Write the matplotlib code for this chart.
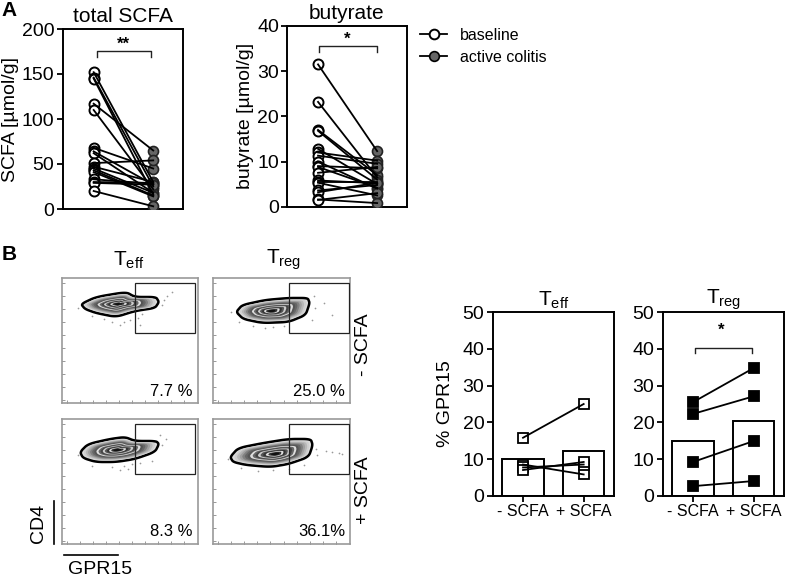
# Paired SCFA plots, flow cytometry panels and GPR15 bars
import numpy as np
import matplotlib
matplotlib.use('Agg')
import matplotlib.pyplot as plt
from matplotlib.lines import Line2D
from matplotlib.patches import Polygon, Rectangle

plt.rcParams['font.family'] = ['Liberation Sans', 'DejaVu Sans']
plt.rcParams['mathtext.fontset'] = 'custom'
plt.rcParams['mathtext.rm'] = 'Liberation Sans'
plt.rcParams['mathtext.default'] = 'rm'

W, H = 786, 578

# panel A values
scfa_base = [152, 146, 145, 117, 110, 68, 64, 62, 51, 47, 45, 43, 41, 33, 30, 29, 20]
scfa_col = [30, 25, 16, 65, 22, 45, 27, 18, 54, 30, 18, 15, 14, 28, 29, 27, 3]
but_base = [31.5, 23.2, 17, 16.8, 12.8, 12, 11.3, 10, 9, 8.8, 7.5, 5.8, 5.5, 5.3, 3.6, 3.2, 1.6, 1.5]
but_col = [12.3, 6.5, 7, 6, 5, 10.2, 9.5, 4, 8.5, 4.2, 8.8, 5.2, 5.5, 2.5, 4.8, 5.3, 0.8, 3]

# panel B values
bar_labels = ['- SCFA', '+ SCFA']
teff_bars = [10, 12.3]
treg_bars = [15, 20.3]
teff_minus = [15.8, 8.5, 7.7, 7]
teff_plus = [25, 5.8, 8.5, 9.2]
treg_minus = [25.5, 22.3, 9.2, 2.6]
treg_plus = [34.8, 27.1, 14.9, 4]

# flow plots: outer contour of each population, in pixels inside the panel
outline_teff_minus = [(19, 26), (34, 19), (64, 14), (73, 19), (94, 19), (97, 24), (93, 30),
                      (73, 33), (54, 39), (34, 35), (23, 31)]
outline_treg_minus = [(23, 34), (29, 27), (52, 22), (75, 20), (94, 20), (96, 25), (92, 37),
                      (75, 44), (49, 45), (30, 41)]
outline_teff_plus = [(18, 33), (26, 25), (48, 20), (63, 18), (73, 22), (94, 22), (97, 25),
                     (93, 33), (73, 40), (54, 43), (34, 43), (21, 39)]
outline_treg_plus = [(17, 38), (25, 29), (50, 24), (75, 20), (97, 20), (99, 26), (95, 38),
                     (75, 45), (57, 48), (33, 46), (20, 43)]
cores = [(56, 26), (58, 33), (55, 31), (62, 35)]
percents = ['7.7 %', '25.0 %', '8.3 %', '36.1%']
specks_teff_minus = [(16, 30), (30, 38), (42, 41), (50, 44), (58, 47), (62, 44), (68, 42),
                     (76, 40), (80, 36), (102, 22), (105, 18), (110, 14), (100, 27), (78, 47)]
specks_treg_minus = [(18, 34), (26, 44), (40, 48), (52, 50), (60, 49), (70, 48), (100, 18),
                     (110, 25), (118, 37), (101, 30), (98, 42)]
specks_teff_plus = [(16, 36), (30, 47), (50, 48), (58, 51), (62, 47), (66, 50), (70, 45),
                    (78, 44), (100, 26), (104, 20), (98, 16), (90, 42)]
specks_treg_plus = [(15, 40), (28, 49), (45, 52), (60, 51), (75, 50), (90, 46), (102, 30),
                    (112, 32), (118, 33), (125, 34), (128, 35), (103, 36)]
flow_ticks = [5, 18, 31, 44, 57, 70, 83, 96, 109, 122]


def px_axes(left, top, right, bottom):
    return fig.add_axes([left / W, 1 - bottom / H, (right - left) / W, (bottom - top) / H])


def bracket(ax, x0, x1, top, low):
    ax.plot([x0, x0, x1, x1], [low, top, top, low], color='#222222', lw=1.0, zorder=6)


def paired(ax, base, col, ymax, ticks, title, ylabel, star, star_y, br):
    x = np.array([0, 1])
    ax.plot(np.zeros(len(base)), base, 'o', ms=7.2, mfc='white', mec='black', mew=1.4, zorder=3)
    ax.plot(np.ones(len(col)), col, 'o', ms=7.2, mfc='#666666', mec='#222222', mew=1.2, zorder=3)
    for a, b in zip(base, col):
        ax.plot(x, [a, b], color='black', lw=1.3, zorder=4)
    ax.set_xlim(-0.52, 1.5)
    ax.set_ylim(0, ymax)
    ax.set_xticks([])
    ax.set_yticks(ticks)
    ax.tick_params(axis='y', labelsize=14, length=4, width=1.3, pad=2)
    ax.set_title(title, fontsize=15, pad=5)
    ax.set_ylabel(ylabel, fontsize=14, labelpad=2)
    for s in ax.spines.values():
        s.set_linewidth(1.4)
    bracket(ax, *br)
    ax.text(0.5, star_y, star, ha='center', va='center', fontsize=12, fontweight='bold')


def bars(ax, heights, minus, plus, title, marker_face):
    x = np.array([0, 1])
    ax.bar(x, heights, width=0.68, facecolor='white', edgecolor='black', lw=1.4, zorder=2)
    ax.plot(np.zeros(4), minus, 's', ms=6.6, mfc=marker_face, mec='black', mew=1.3, zorder=3)
    ax.plot(np.ones(4), plus, 's', ms=6.6, mfc=marker_face, mec='black', mew=1.3, zorder=3)
    for a, b in zip(minus, plus):
        ax.plot(x, [a, b], color='black', lw=1.3, zorder=4)
    ax.set_xlim(-0.5, 1.5)
    ax.set_ylim(0, 50)
    ax.set_xticks(x)
    ax.set_xticklabels(bar_labels)
    ax.set_yticks([0, 10, 20, 30, 40, 50])
    ax.tick_params(axis='y', labelsize=14, length=4, width=1.3, pad=2)
    ax.tick_params(axis='x', labelsize=11.5, length=4, width=1.3, pad=2)
    ax.set_title(title, fontsize=15, pad=5)
    for s in ax.spines.values():
        s.set_linewidth(1.4)


def smooth_outline(points):
    # densify the closed outline, then round off its corners
    pts = np.array(points + [points[0]], dtype=float)
    t = np.arange(len(pts))
    tt = np.linspace(0, len(pts) - 1, 240, endpoint=False)
    xs = np.interp(tt, t, pts[:, 0])
    ys = np.interp(tt, t, pts[:, 1])
    k = np.ones(15) / 15
    xs = np.convolve(np.r_[xs[-15:], xs, xs[:15]], k, mode='same')[15:-15]
    ys = np.convolve(np.r_[ys[-15:], ys, ys[:15]], k, mode='same')[15:-15]
    return np.c_[xs, ys]


def flow(ax, points, core, specks, gate, label):
    ax.set_xlim(0, 136)
    ax.set_ylim(125, 0)
    ax.set_xticks([])
    ax.set_yticks([])
    for s in ax.spines.values():
        s.set_color('#9a9a9a')
        s.set_linewidth(1.2)
    sx, sy = zip(*specks)
    ax.scatter(sx, sy, s=1.5, color='#999999', lw=0, zorder=1)
    # tick marks of the cytometer axes
    ax.plot(flow_ticks, [124] * len(flow_ticks), '|', color='#888888', ms=2.5, mew=0.6)
    ax.plot([1] * len(flow_ticks), flow_ticks, '_', color='#888888', ms=2.5, mew=0.6)
    shape = smooth_outline(points)
    centre = np.array(core, dtype=float)
    ax.add_patch(Polygon(shape, closed=True, fc='#dddddd', ec='black', lw=1.8, zorder=2))
    levels = np.linspace(0.92, 0.1, 15)
    greys = ['#d0d0d0', '#b8b8b8', '#a0a0a0', '#808080', '#666666', '#555555', '#dddddd', '#666666',
             '#444444', '#cccccc', '#555555', '#333333', '#dddddd', '#333333', '#111111']
    for lev, grey in zip(levels, greys):
        ring = centre + (shape - centre) * np.array([lev, lev * 0.95])
        ax.add_patch(Polygon(ring, closed=True, fc=grey, ec='none', zorder=3))
    ax.add_patch(Rectangle((gate, 5), 60, 50, fc='none', ec='#222222', lw=0.9, zorder=5))
    ax.text(131, 113, label, ha='right', va='center', fontsize=12)


fig = plt.figure(figsize=(W / 100, H / 100), dpi=100)

ax1 = px_axes(62.7, 29, 183, 209)
paired(ax1, scfa_base, scfa_col, 200, [0, 50, 100, 150, 200], 'total SCFA',
       'SCFA [µmol/g]', '**', 183, (0.055, 0.96, 175.5, 169))
ax2 = px_axes(287.3, 26, 406.7, 206.7)
paired(ax2, but_base, but_col, 40, [0, 10, 20, 30, 40], 'butyrate',
       'butyrate [µmol/g]', '*', 37, (0.02, 1.0, 35.6, 34.3))

handles = [Line2D([], [], color='black', lw=1.3, marker='o', ms=7, mfc='white', mec='black', mew=1.4),
           Line2D([], [], color='black', lw=1.3, marker='o', ms=7, mfc='#666666', mec='black', mew=1.2)]
fig.legend(handles, ['baseline', 'active colitis'], loc='upper left', frameon=False,
           bbox_to_anchor=(420 / W, 1 - 28 / H), fontsize=11.5, handlelength=1.7,
           handletextpad=0.8, labelspacing=0.42, borderpad=0, borderaxespad=0)

flow_boxes = [(62, 278, 198, 403), (213, 278, 350, 403), (62, 419, 198, 544), (213, 419, 350, 544)]
outlines = [outline_teff_minus, outline_treg_minus, outline_teff_plus, outline_treg_plus]
specks = [specks_teff_minus, specks_treg_minus, specks_teff_plus, specks_treg_plus]
gates = [73, 75, 73, 75]
for box, out, core, sp, gate, pct in zip(flow_boxes, outlines, cores, specks, gates, percents):
    flow(px_axes(*box), out, core, sp, gate, pct)

ax3 = px_axes(492.7, 312.3, 614, 495.7)
bars(ax3, teff_bars, teff_minus, teff_plus, 'T$_{eff}$', 'white')
ax3.set_ylabel('% GPR15', fontsize=14, labelpad=6)
ax4 = px_axes(662.7, 312.3, 784, 495.7)
bars(ax4, treg_bars, treg_minus, treg_plus, 'T$_{reg}$', 'black')
bracket(ax4, 0.03, 0.98, 40.2, 38.8)
ax4.text(0.47, 45, '*', ha='center', va='center', fontsize=12, fontweight='bold')

# text and lines placed on the figure itself
def fig_text(x, y, s, **kw):
    fig.text(x / W, 1 - y / H, s, ha='center', va='center', **kw)


def fig_line(xs, ys, lw):
    fig.add_artist(Line2D([x / W for x in xs], [1 - y / H for y in ys], color='black', lw=lw))


fig_text(9, 10, 'A', fontsize=15, fontweight='bold')
fig_text(9, 255, 'B', fontsize=15, fontweight='bold')
fig_text(129, 260, 'T$_{eff}$', fontsize=15)
fig_text(284, 260, 'T$_{reg}$', fontsize=15)
fig_text(363, 345, '- SCFA', fontsize=14, rotation=90)
fig_text(363, 490, '+ SCFA', fontsize=14, rotation=90)
fig_text(38, 523, 'CD4', fontsize=14, rotation=90)
fig_text(100, 570, 'GPR15', fontsize=14)
fig_line([54, 54], [501, 544], 1.2)
fig_line([64, 118], [555, 555], 1.2)

fig.savefig('out.png', dpi=100)
